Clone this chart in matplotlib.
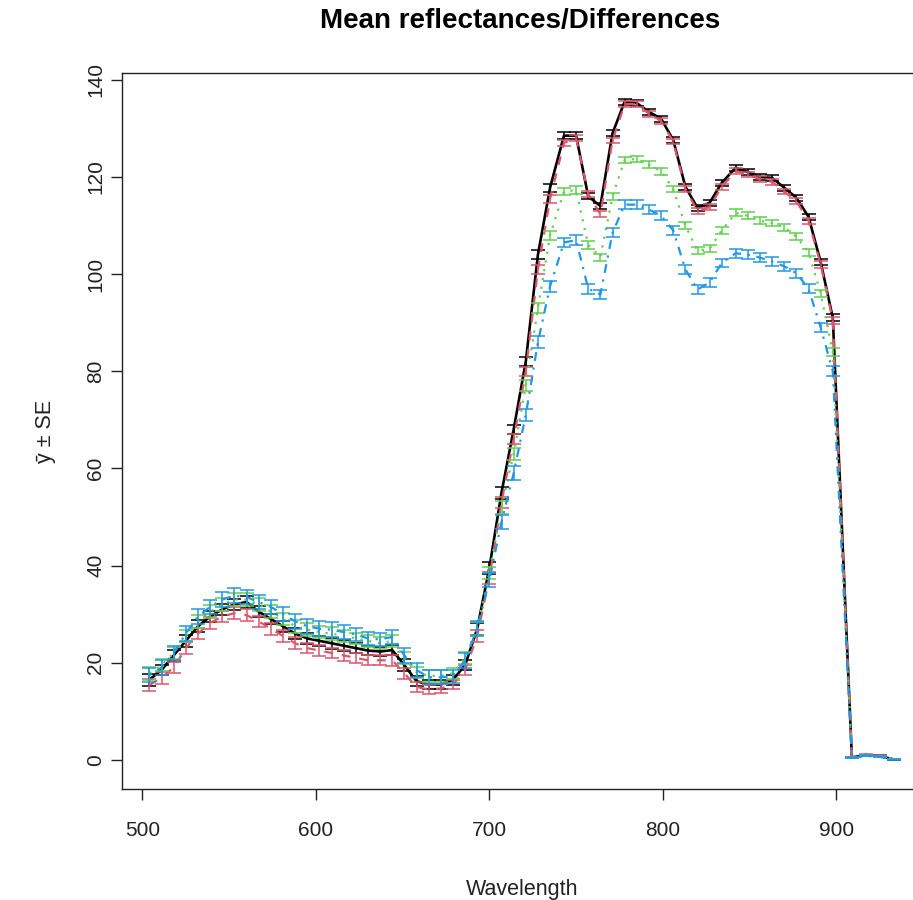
import matplotlib
matplotlib.use("Agg")
import matplotlib.pyplot as plt

plt.rcParams['font.family'] = ['Liberation Sans', 'DejaVu Sans']

# wavelengths (nm) of the measured bands
wavelength = [504, 511, 518, 525, 532, 539, 546, 553, 560, 567,
              574, 581, 588, 595, 602, 609, 616, 623, 630, 637,
              644, 651, 658, 665, 672, 679, 686, 693, 700, 707,
              714, 721, 728, 735, 743, 750, 757, 764, 771, 778,
              785, 792, 799, 806, 813, 820, 827, 834, 842, 849,
              856, 863, 870, 877, 884, 891, 898, 909, 917,
              925, 933]

# mean reflectance per group
black = [16.5, 18.5, 21.5, 24.5, 27.5, 29.5, 31, 32, 32.5, 30.5,
         29, 27.5, 26, 25, 24.5, 24, 23.5, 23, 22.5, 22.3,
         22.6, 19.5, 16.2, 15.5, 15.5, 16.5, 19.5, 27, 39.5, 55,
         68, 82, 104, 117.8, 128.5, 128.5, 116, 114, 129, 135.5,
         135.2, 133.4, 132, 127.6, 118, 113.6, 114.7, 118.8, 121.9, 121,
         120, 119.8, 117.8, 115.7, 111.8, 102.5, 91, 0.5, 1.0,
         0.8, 0.1]
red = [15.4, 16.9, 19, 23, 26, 28.2, 29.5, 30.2, 29.8, 28.5,
       27, 25.5, 24, 23, 22.5, 22, 21.5, 21, 20.5, 20.5,
       20.5, 17.8, 15, 14.5, 14.7, 15.5, 18.5, 25.5, 37.5, 53,
       66, 80, 101, 115.5, 127, 128, 116.5, 112.3, 127.5, 135,
       135, 133, 131.5, 127.3, 117.5, 113, 113.8, 118, 121.2, 120.5,
       119.5, 119, 117, 115, 111, 102, 90.5, 0.5, 1.1,
       0.8, 0.2]
green = [17.8, 19.5, 22, 25.5, 28.5, 30.5, 32, 33, 33, 32,
         30.5, 29, 27.5, 26.8, 26.3, 26, 25.5, 25, 24.5, 24,
         24.5, 21, 18, 17.3, 17.3, 17.8, 21, 27, 38.5, 52,
         63, 77, 93, 108, 117, 117.3, 106, 103.5, 116, 123.5,
         123.7, 122.5, 121.2, 117.5, 110, 104.8, 105.2, 109, 112.6, 112,
         111, 110.5, 109.6, 107.7, 104.5, 96, 84, 0.5, 1.0,
         0.7, 0.2]
blue = [17.5, 19, 22, 26, 29.5, 31.5, 33, 33.8, 33.5, 32.5,
        31.5, 30, 28.5, 27.5, 27, 26.8, 26.3, 25.8, 25, 24.8,
        25.3, 21.5, 18.5, 17, 17, 17.2, 20.5, 27, 37, 49,
        59, 71, 86, 97.5, 106.5, 107, 97, 95.8, 108.5, 114.3,
        114.3, 113.3, 112, 109, 101, 96.8, 98.3, 102.3, 104.3, 104,
        103.4, 102.6, 101.6, 100.2, 97, 89, 80, 0.4, 0.8,
        0.6, 0.1]

# standard errors
se_black = [1.2, 1.1, 1.2, 1.2, 1.2, 1.1, 1.1, 1.2, 1.2, 1.1,
            1.1, 1.1, 1.1, 1.1, 1.1, 1.1, 1.1, 1.0, 1.0, 1.0,
            1.1, 1.2, 1.0, 0.9, 0.9, 1.0, 1.1, 1.2, 1.2, 1.2,
            1.0, 0.9, 0.9, 0.8, 0.7, 0.7, 0.6, 0.6, 0.6, 0.6,
            0.6, 0.6, 0.6, 0.6, 0.6, 0.6, 0.6, 0.6, 0.6, 0.6,
            0.6, 0.6, 0.6, 0.6, 0.6, 0.7, 0.7, 0.1, 0.1,
            0.1, 0.05]
se_red = [1.2, 1.2, 1.2, 1.3, 1.2, 1.2, 1.2, 1.2, 1.2, 1.2,
          1.2, 1.2, 1.2, 1.1, 1.1, 1.1, 1.1, 1.1, 1.0, 1.0,
          1.1, 1.1, 1.0, 1.0, 1.0, 1.0, 1.1, 1.2, 1.2, 1.2,
          1.0, 0.9, 0.9, 0.8, 0.7, 0.7, 0.6, 0.6, 0.6, 0.6,
          0.6, 0.6, 0.6, 0.6, 0.6, 0.6, 0.6, 0.6, 0.6, 0.6,
          0.6, 0.6, 0.6, 0.6, 0.6, 0.7, 0.7, 0.1, 0.1,
          0.1, 0.05]
se_green = [1.3, 1.3, 1.3, 1.3, 1.3, 1.3, 1.3, 1.3, 1.3, 1.3,
            1.3, 1.3, 1.3, 1.3, 1.3, 1.3, 1.3, 1.2, 1.2, 1.2,
            1.3, 1.3, 1.2, 1.2, 1.2, 1.2, 1.3, 1.3, 1.3, 1.3,
            1.2, 1.1, 1.0, 0.9, 0.8, 0.8, 0.8, 0.7, 0.7, 0.7,
            0.7, 0.7, 0.7, 0.7, 0.7, 0.7, 0.7, 0.7, 0.7, 0.7,
            0.7, 0.7, 0.7, 0.7, 0.7, 0.8, 0.8, 0.1, 0.1,
            0.1, 0.05]
se_blue = [1.5, 1.5, 1.5, 1.5, 1.5, 1.5, 1.5, 1.5, 1.5, 1.5,
           1.5, 1.5, 1.5, 1.5, 1.5, 1.5, 1.5, 1.4, 1.4, 1.4,
           1.5, 1.5, 1.4, 1.4, 1.4, 1.4, 1.5, 1.5, 1.5, 1.5,
           1.4, 1.3, 1.2, 1.1, 1.0, 1.0, 1.0, 0.9, 0.9, 0.9,
           0.9, 0.9, 0.9, 0.9, 0.9, 0.9, 0.9, 0.9, 0.9, 0.9,
           0.9, 0.9, 0.9, 0.9, 0.9, 1.0, 1.0, 0.1, 0.1,
           0.1, 0.05]

groups = [
    (black, se_black, "black", (None, None), 1.9),
    (red, se_red, "#DF536B", (4, 4), 1.6),
    (green, se_green, "#61D04F", (1, 3), 1.6),
    (blue, se_blue, "#2297E6", (1, 3, 4, 3), 1.6),
]

fig = plt.figure(figsize=(9.13, 9.0), dpi=100)
ax = fig.add_axes([122 / 913, 111 / 900, 801 / 913, 716 / 900])

for i, (vals, se, col, dash, lw) in enumerate(groups):
    line, = ax.plot(wavelength, vals, color=col, lw=lw, zorder=3 + i)
    if dash[0] is not None:
        line.set_dashes(dash)
    ax.errorbar(wavelength, vals, yerr=se, fmt='none', ecolor=col,
                elinewidth=1.1, capsize=5, capthick=1.1, zorder=3 + i)

ax.set_xlim(488.2, 950)
ax.set_ylim(-6, 141.4)
ax.set_xticks([500, 600, 700, 800, 900])
ax.set_yticks([0, 20, 40, 60, 80, 100, 120, 140])

ax.tick_params(direction='out', length=8, width=1, labelsize=15, colors='#222222')
ax.tick_params(axis='x', pad=15)
ax.tick_params(axis='y', pad=4)
for lab in ax.get_yticklabels():
    lab.set_rotation(90)
    lab.set_va('center')
for sp in ax.spines.values():
    sp.set_linewidth(1.0)
    sp.set_color('#222222')

ax.set_xlabel("Wavelength", fontsize=15.5, labelpad=28, color='#222222')
ax.set_ylabel("ȳ ± SE", fontsize=15.5, labelpad=22, color='#222222')
fig.text(520 / 913, 1 - 21 / 900, "Mean reflectances/Differences",
         ha='center', va='center', fontsize=20, fontweight='bold')

fig.savefig("out.png", dpi=100)
